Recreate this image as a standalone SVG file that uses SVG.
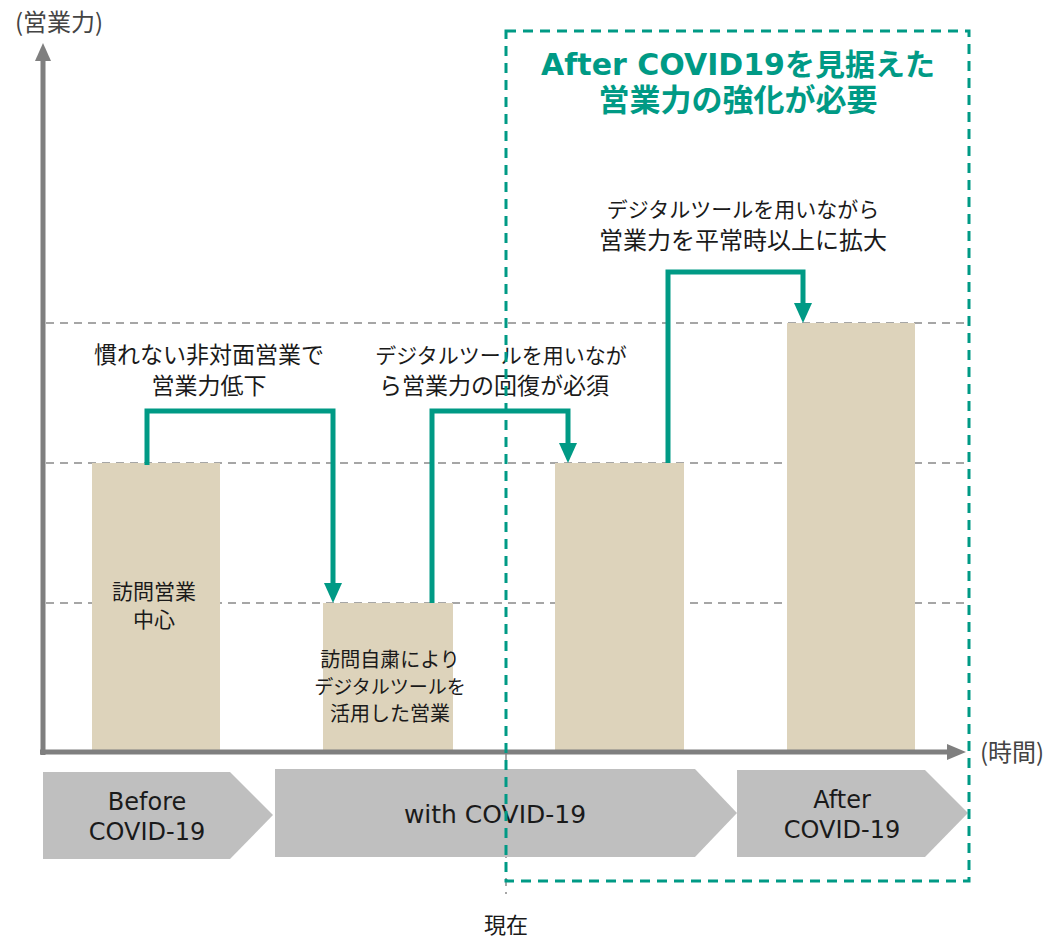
<svg xmlns="http://www.w3.org/2000/svg" width="1052" height="939" viewBox="0 0 1052 939">
<defs>
<style>
.t{font-family:"Noto Sans CJK JP","Noto Sans",sans-serif;fill:#1a1a1a;text-anchor:middle}
.lat{font-family:"DejaVu Sans","Noto Sans CJK JP",sans-serif;fill:#1a1a1a;text-anchor:middle;font-size:24px}
.ax{font-family:"Noto Sans CJK JP",sans-serif;fill:#444;font-size:24px}
.title{font-family:"DejaVu Sans","Noto Sans CJK JP",sans-serif;font-weight:bold;fill:#009A85;text-anchor:middle;font-size:30px}
.bar{fill:#DDD3BB}
.grid{stroke:#A6A6A6;stroke-width:2;stroke-dasharray:8 6;fill:none}
.axis{stroke:#7F7F7F;stroke-width:5;fill:none}
.conn{stroke:#009A85;stroke-width:5;fill:none;stroke-linejoin:miter}
.head{fill:#009A85}
.chev{fill:#BFBFBF}
</style>
</defs>
<rect width="1052" height="939" fill="#fff"/>

<g id="gridlines">
<line class="grid" x1="46" y1="323" x2="966" y2="323"/>
<line class="grid" x1="46" y1="463" x2="966" y2="463"/>
<line class="grid" x1="46" y1="603" x2="966" y2="603"/>
</g>

<g id="now-line">
<line x1="506" y1="752" x2="506" y2="894" stroke="#A6A6A6" stroke-width="2" stroke-dasharray="8 6"/>
<text class="t" x="506" y="933" font-size="22">現在</text>
</g>

<g id="bar-before">
<rect class="bar" x="92" y="463" width="128" height="289"/>
<text class="t" x="154" y="599" font-size="21">訪問営業</text>
<text class="t" x="154" y="627" font-size="21">中心</text>
</g>
<g id="bar-with">
<rect class="bar" x="323" y="603" width="130" height="149"/>
<text class="t" x="390" y="667" font-size="20">訪問自粛により</text>
<text class="t" x="390" y="694" font-size="19">デジタルツールを</text>
<text class="t" x="390" y="721" font-size="20">活用した営業</text>
</g>
<g id="bar-now">
<rect class="bar" x="555" y="463" width="129" height="289"/>
</g>
<g id="bar-after">
<rect class="bar" x="787" y="323" width="128" height="429"/>
</g>

<g id="axes">
<line class="axis" x1="43" y1="755" x2="43" y2="58"/>
<polygon points="43,43 35,61 51,61" fill="#7F7F7F"/>
<line class="axis" x1="40" y1="752" x2="950" y2="752"/>
<polygon points="966,752 947,744 947,760" fill="#7F7F7F"/>
<text class="ax" x="59" y="31" text-anchor="middle">(営業力)</text>
<text class="ax" x="980" y="761">(時間)</text>
</g>

<g id="connectors">
<path class="conn" d="M147,465 V411 H333 V585"/>
<polygon class="head" points="333,603 324,583 342,583"/>
<path class="conn" d="M432,603 V411 H568 V445"/>
<polygon class="head" points="568,463 559,443 577,443"/>
<path class="conn" d="M668,463 V272 H803 V305"/>
<polygon class="head" points="803,323 794,303 812,303"/>
</g>

<g id="label-1">
<text class="t" x="209" y="363" font-size="23">慣れない非対面営業で</text>
<text class="t" x="209" y="394" font-size="23">営業力低下</text>
</g>
<g id="label-2">
<text class="t" x="501" y="363" font-size="21">デジタルツールを用いなが</text>
<text class="t" x="494" y="394" font-size="23">ら営業力の回復が必須</text>
</g>
<g id="label-3">
<text class="t" x="743" y="217" font-size="21">デジタルツールを用いながら</text>
<text class="t" x="743" y="249" font-size="24">営業力を平常時以上に拡大</text>
</g>

<g id="chevron-before">
<polygon class="chev" points="43,772 230,772 273,815 230,859 43,859"/>
<text class="lat" x="147" y="810">Before</text>
<text class="lat" x="147" y="840">COVID-19</text>
</g>
<g id="chevron-with">
<polygon class="chev" points="275,769 695,769 737,813 695,857 275,857"/>
<text class="lat" x="495" y="823" style="font-size:25px">with COVID-19</text>
</g>
<g id="chevron-after">
<polygon class="chev" points="737,770 925,770 968,813 925,857 737,857"/>
<text class="lat" x="842" y="808">After</text>
<text class="lat" x="842" y="838">COVID-19</text>
</g>

<g id="after-box">
<rect x="506" y="31" width="463" height="850" fill="none" stroke="#009A85" stroke-width="3" stroke-dasharray="10 7"/>
<text class="title" x="738" y="75">After COVID19を見据えた</text>
<text class="title" x="738" y="111" style="font-size:31px">営業力の強化が必要</text>
</g>
</svg>
